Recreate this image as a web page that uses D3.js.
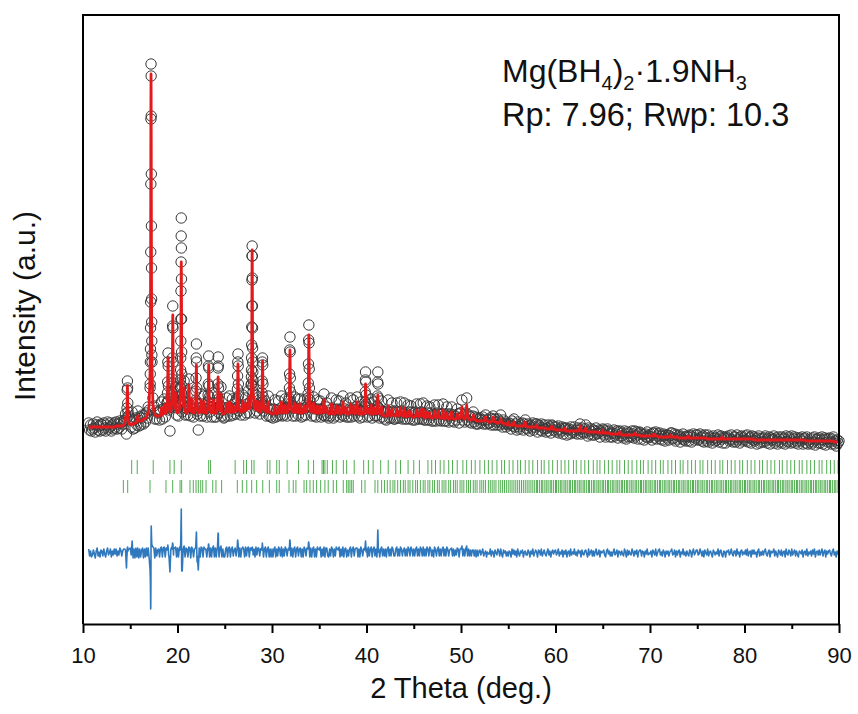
<!DOCTYPE html>
<html><head><meta charset="utf-8">
<script src="https://cdn.jsdelivr.net/npm/d3@7"></script>
<style>body{margin:0;background:#fff}</style>
</head><body><svg id="c" width="858" height="714"></svg>
<script>
// ---- data: 2-theta scan, low-angle part (0.1 deg step) ----
const lowStart = 10.6, lowStep = 0.1;
const lowObs = [
201,194,199,193,
195,200,196,192,199,202,194,198,193,200,
199,194,201,196,193,199,202,195,197,201,
193,199,195,201,196,202,195,200,196,203,
201,195,200,203,204,210,190,243,208,204,
205,197,212,195,204,196,206,199,213,198,
207,199,206,209,200,209,202,211,206,217,
214,236,560,262,226,218,205,213,205,211,
212,204,214,222,205,215,225,207,216,221,
271,214,193,217,229,318,227,221,237,209,
216,208,219,237,406,212,222,243,209,216,
215,209,245,219,208,231,216,207,215,221,
280,213,194,216,208,230,217,208,228,215,
215,207,221,268,212,217,207,217,231,207,
216,207,220,267,211,218,237,208,214,206,
207,216,226,208,217,228,208,216,225,209,
215,222,210,221,270,213,217,209,216,229,
217,209,226,211,220,233,211,222,239,378,
232,221,211,229,213,218,227,210,216,222,
266,213,217,223,208,216,228,208,215,207,
214,206,215,224,207,214,208,223,215,209,
228,208,215,209,225,216,208,217,224,287,
216,218,208,216,227,208,216,225,209,215,
225,207,215,208,224,216,209,218,226,299,
217,218,208,216,227,208,215,207,224,215,
214,223,207,215,209,230,208,217,221,208,
206,214,208,226,215,206,214,208,224,215,
214,223,207,214,209,228,208,215,221,207,
213,207,215,226,207,215,224,208,214,217,
227,208,214,206,222,213,207,214,218,252,
218,207,221,208,214,225,206,214,222,208,
214,208,252,216,206,214,223,207,212,205,
212,204,213,224,206,212,206,221,213,205,
205,213,221,206,212,206,222,213,205,211,
221,205,211,205,219,212,205,218,212,204,
211,204,212,220,205,211,205,220,212,205,
221,204,210,204,218,211,204,217,211,203,
209,203,219,210,203,211,219,204,210,203,
210,220,203,209,203,217,210,202,208,210,
217,203,209,202,208,204,215,210,201,211,
211,224,204,209,202,211,226,204,209,202,
207,201,208,212,202,207,200,206,200,205
];
const lowCalc = [
197,197,197,197,
197,197,197,197,197,197,197,197,197,197,
197,197,197,197,197,197,197,197,197,197,
197,197,197,197,197,198,198,198,198,198,
198,198,198,199,200,207,205,238,204,200,
200,199,200,200,200,201,201,203,208,203,
203,203,203,204,205,205,206,206,209,212,
219,253,550,254,220,213,210,208,208,208,
208,208,209,216,209,210,219,211,211,216,
266,217,212,213,223,309,223,216,231,213,
211,212,214,230,362,230,218,236,213,211,
211,213,239,214,213,225,212,211,211,216,
259,216,211,211,212,224,212,212,222,211,
211,211,216,259,216,212,211,212,224,211,
211,211,215,247,215,213,230,212,210,210,
211,212,220,212,212,222,212,212,219,212,
212,217,213,217,260,217,212,213,212,223,
213,213,220,214,215,227,215,217,234,374,
234,217,215,223,215,213,222,213,212,217,
263,217,213,217,212,212,222,212,211,211,
210,210,211,218,211,210,211,217,211,212,
222,212,211,212,219,212,211,213,219,274,
219,213,212,212,221,212,212,219,212,211,
220,211,211,212,218,212,212,213,221,289,
221,213,212,212,221,212,211,211,218,211,
211,217,211,211,212,224,212,212,216,211,
210,210,211,220,211,210,210,211,218,211,
211,217,211,210,212,222,212,211,216,211,
210,210,211,220,211,211,218,211,210,212,
222,212,210,210,216,210,210,210,213,240,
213,211,215,211,210,219,210,210,216,211,
210,212,229,212,210,210,217,210,208,208,
208,208,209,218,209,208,209,215,209,208,
208,209,215,209,208,209,216,209,208,208,
216,208,207,208,213,208,208,212,208,207,
207,207,208,214,208,207,208,214,208,208,
215,207,206,207,212,207,207,211,207,206,
206,207,213,207,206,207,213,207,206,206,
206,214,206,205,206,211,206,205,205,206,
212,206,205,205,205,206,210,206,205,207,
207,217,207,205,205,207,219,207,205,205,
204,204,205,209,205,204,204,203,203,203
];
// ---- fine-step points recorded across the strongest reflections: [2theta, obs, calc] ----
const fineScan = [
[14.64,206,210],[14.66,216,218],[14.68,234,230],[14.72,236,230],[14.74,221,218],[14.76,212,210],
[17.11,240,262],[17.12,250,274],[17.13,262,291],[17.14,275,312],[17.15,296,340],[17.16,322,378],[17.17,372,426],[17.18,440,481],[17.19,505,529],
[17.21,548,529],[17.22,508,481],[17.23,450,426],[17.24,398,378],[17.25,356,340],[17.26,325,312],[17.27,302,291],[17.28,283,274],[17.29,269,262],
[18.92,222,219],[18.94,231,226],[18.96,242,236],[18.98,262,254],[19.02,258,254],[19.04,238,236],[19.06,224,226],[19.08,216,219],
[19.42,232,228],[19.44,245,239],[19.46,266,258],[19.48,298,288],[19.52,296,288],[19.54,262,258],[19.56,241,239],[19.58,226,228],
[20.31,236,233],[20.32,244,239],[20.33,254,246],[20.34,266,255],[20.35,283,268],[20.36,305,285],[20.37,333,306],[20.38,362,330],[20.39,388,352],
[20.41,376,352],[20.42,345,330],[20.43,305,306],[20.44,272,285],[20.45,250,268],[20.46,238,255],[20.47,230,246],[20.48,224,239],[20.49,220,233],
[21.92,224,219],[21.94,233,225],[21.96,246,234],[21.98,266,249],[22.02,262,249],[22.04,236,234],[22.06,220,225],[22.08,210,219],
[23.22,222,219],[23.24,229,225],[23.26,240,234],[23.28,258,249],[23.32,256,249],[23.34,238,234],[23.36,227,225],[23.38,217,219],
[24.22,221,217],[24.24,228,221],[24.26,240,228],[24.28,256,239],[24.32,258,239],[24.34,236,228],[24.36,225,221],[24.38,215,217],
[26.32,226,220],[26.34,235,226],[26.36,248,235],[26.38,262,250],[26.42,258,250],[26.44,240,235],[26.46,228,226],[26.48,218,220],
[27.81,240,237],[27.82,247,243],[27.83,254,251],[27.84,266,261],[27.85,279,274],[27.86,297,292],[27.87,318,314],[27.88,344,340],[27.89,368,363],
[27.91,368,363],[27.92,346,340],[27.93,318,314],[27.94,296,292],[27.95,276,274],[27.96,262,261],[27.97,252,251],[27.98,244,243],[27.99,238,237],
[28.92,224,221],[28.94,231,226],[28.96,243,237],[28.98,262,252],[29.02,259,252],[29.04,240,237],[29.06,227,226],[29.08,219,221],
[31.82,226,223],[31.84,236,230],[31.86,250,242],[31.88,274,261],[31.92,272,261],[31.94,246,242],[31.96,232,230],[31.98,221,223],
[33.82,230,226],[33.84,241,234],[33.86,260,250],[33.88,284,273],[33.92,281,273],[33.94,255,250],[33.96,236,234],[33.98,224,226],
[39.84,222,219],[39.86,232,225],[39.88,244,234],[39.92,242,234],[39.94,229,225],[39.96,220,219],
[41.14,218,215],[41.16,228,219],[41.18,242,225],[41.22,240,225],[41.24,226,219],[41.26,216,215]
];
// ---- high-angle part (0.1 deg step, 52.0 - 90.0) ----
const highStart = 52.0, highStep = 0.1;
const highObs = [
206,201,204,207,200,204,209,200,204,201,
201,206,199,205,208,199,205,202,199,205,
203,199,209,201,197,204,200,202,197,200,
199,201,200,195,203,198,205,197,200,194,
202,197,195,200,198,201,194,200,204,196,
195,200,198,193,199,196,201,194,197,200,
200,192,199,198,194,200,193,196,199,195,
192,196,199,193,197,191,199,198,194,197,
197,192,194,198,191,195,193,197,190,196,
195,196,189,194,195,190,197,191,194,192,
197,191,194,190,196,194,200,190,196,192,
191,195,199,192,188,196,190,193,195,189,
194,189,193,196,190,191,194,187,193,191,
195,194,189,187,193,195,190,193,187,191,
187,191,194,188,190,193,186,192,193,188,
191,188,186,193,190,185,192,187,191,188,
187,193,190,186,193,188,192,185,190,192,
191,185,190,189,184,190,187,192,186,188,
187,190,184,191,191,186,192,185,188,190,
191,185,188,184,190,188,183,189,186,189,
184,188,191,191,185,186,190,183,189,185,
188,189,182,187,185,190,184,187,183,188,
187,183,189,188,182,187,190,184,186,189,
189,184,185,190,187,183,188,182,189,186,
183,189,182,186,187,184,181,188,186,183,
186,184,189,182,187,188,185,181,187,186,
181,187,186,188,183,185,189,184,182,187,
187,182,189,184,186,181,187,188,183,186,
184,188,183,189,182,186,187,181,188,184,
187,183,185,180,186,188,181,185,182,186,
182,186,188,183,181,185,187,180,186,184,
185,188,181,186,183,180,187,185,182,187,
181,185,186,180,188,183,182,187,185,181,
188,182,185,187,181,186,183,180,186,185,
183,187,180,185,186,181,187,180,184,182,
185,180,186,182,187,179,184,185,181,186,
181,184,187,180,184,186,179,185,182,185,
186,182,180,185,187,180,183,178,184,181,
183
];
const highCalc = [
203,203,203,203,203,204,207,204,203,202,
202,202,202,203,207,203,202,202,201,201,
201,202,205,202,201,201,200,200,200,199,
202,199,199,199,199,199,202,199,198,198,
198,198,198,198,198,198,198,199,202,198,
197,197,197,197,197,197,197,197,197,197,
199,196,196,196,196,196,196,196,196,196,
195,195,195,195,195,195,198,195,195,195,
194,194,194,194,194,194,194,194,194,194,
196,193,193,193,193,193,193,193,193,193,
193,193,193,193,193,194,198,194,193,193,
193,193,196,193,192,192,192,192,192,192,
192,192,192,192,192,192,191,191,191,191,
194,191,191,191,191,191,191,191,190,190,
190,190,190,190,190,190,190,190,192,190,
189,189,189,189,189,189,189,189,189,189,
189,189,189,189,191,189,189,189,189,189,
188,188,188,188,188,188,188,188,188,188,
188,188,188,188,190,188,188,188,188,187,
187,187,187,187,187,187,187,187,187,187,
187,187,189,187,187,187,187,187,187,187,
186,186,186,186,186,186,186,186,186,186,
188,186,186,186,186,186,186,186,186,186,
186,186,186,186,186,186,186,186,186,186,
185,185,185,185,185,185,185,185,185,185,
185,185,185,185,185,185,187,185,185,185,
185,185,185,185,185,185,185,185,185,185,
185,185,185,185,185,185,185,185,185,185,
185,185,185,185,185,185,185,185,185,185,
184,184,184,184,184,184,184,184,184,184,
184,184,184,184,184,184,184,184,184,184,
184,184,184,184,184,184,184,184,184,184,
184,184,184,184,184,184,184,184,184,184,
184,184,184,184,184,184,184,184,184,184,
184,184,184,184,184,183,183,183,183,183,
183,183,183,183,183,183,183,183,183,183,
183,183,183,183,183,183,183,183,183,183,
183,183,183,183,183,182,182,182,182,182,
182
];
// ---- Bragg reflection positions ----
const braggPhase1 = [15.15,15.74,17.43,19.2,19.65,20.4,23.3,23.5,26.1,27.0,27.3,27.85,28.1,29.5,29.78,30.5,30.77,31.6,32.8,33.84,34.4,35.3,35.45,35.6,35.85,36.4,36.8,37.55,37.9,38.7,39.7,40.2,40.7,41.5,42.3,43.1,43.6,44.4,45.0,45.6,46.5,46.9,47.3,47.8,48.2,48.7,49.1,49.6,50.2,50.6,51.1,51.5,52.0,52.5,52.9,53.3,53.8,54.3,54.6,55.1,55.5,56.0,56.3,56.8,57.2,57.6,58.1,58.5,58.8,59.3,59.7,60.2,60.6,61.0,61.4,61.9,62.2,62.7,63.1,63.5,64.0,64.4,64.7,65.2,65.6,66.0,66.5,66.8,67.3,67.7,68.1,68.6,69.0,69.3,69.8,70.2,70.6,71.1,71.4,71.9,72.3,72.7,73.2,73.5,74.0,74.4,74.8,75.3,75.6,76.1,76.5,76.9,77.4,77.7,78.2,78.6,79.0,79.5,79.8,80.3,80.7,81.1,81.6,81.9,82.4,82.8,83.2,83.7,84.0,84.5,84.9,85.3,85.8,86.1,86.6,87.0,87.4,87.9,88.2,88.7,89.1,89.5,89.9];
const braggPhase2 = [14.27,14.73,17.09,18.78,19.49,20.27,20.44,21.32,21.67,21.96,22.2,22.46,22.67,23.02,23.73,24.07,24.67,26.33,26.86,27.33,27.85,28.38,29.02,29.72,30.5,30.77,31.8,32.25,32.53,33.39,33.67,34.02,34.37,34.72,35.15,35.6,35.95,36.48,36.84,37.54,37.9,38.07,38.25,38.43,38.6,39.49,39.84,40.9,41.2,41.6,41.9,42.2,42.5,42.8,43.0,43.3,43.6,43.9,44.1,44.4,44.6,44.9,45.2,45.4,45.7,46.0,46.2,46.5,46.7,47.0,47.2,47.5,47.7,48.0,48.2,48.4,48.7,48.9,49.2,49.4,49.6,49.9,50.1,50.3,50.6,50.8,51.0,51.3,51.5,51.7,52.0,52.2,52.4,52.6,52.9,53.1,53.3,53.5,53.7,54.0,54.2,54.4,54.6,54.8,55.0,55.2,55.4,55.6,55.8,56.0,56.2,56.4,56.6,56.8,57.0,57.2,57.4,57.6,57.8,58.0,58.1,58.3,58.5,58.6,58.8,59.0,59.1,59.3,59.5,59.6,59.8,60.0,60.1,60.3,60.5,60.6,60.8,61.0,61.1,61.3,61.5,61.6,61.8,62.0,62.1,62.3,62.5,62.6,62.8,63.0,63.1,63.3,63.5,63.6,63.8,64.0,64.1,64.3,64.5,64.6,64.8,65.0,65.1,65.3,65.5,65.6,65.8,66.0,66.1,66.3,66.5,66.6,66.8,67.0,67.1,67.3,67.5,67.6,67.8,68.0,68.1,68.3,68.5,68.6,68.8,69.0,69.1,69.3,69.5,69.6,69.8,70.0,70.1,70.3,70.5,70.6,70.8,71.0,71.1,71.3,71.5,71.6,71.8,72.0,72.1,72.3,72.5,72.6,72.8,73.0,73.1,73.3,73.5,73.6,73.8,74.0,74.1,74.3,74.5,74.6,74.8,75.0,75.1,75.3,75.5,75.6,75.8,76.0,76.1,76.3,76.5,76.6,76.8,77.0,77.1,77.3,77.5,77.6,77.8,78.0,78.1,78.3,78.5,78.6,78.8,79.0,79.1,79.3,79.5,79.6,79.8,80.0,80.1,80.3,80.5,80.6,80.8,81.0,81.1,81.3,81.5,81.6,81.8,82.0,82.1,82.3,82.5,82.6,82.8,83.0,83.1,83.3,83.5,83.6,83.8,84.0,84.1,84.3,84.5,84.6,84.8,85.0,85.1,85.3,85.5,85.6,85.8,86.0,86.1,86.3,86.5,86.6,86.8,87.0,87.1,87.3,87.5,87.6,87.8,88.0,88.1,88.3,88.5,88.6,88.8,89.0,89.1,89.3,89.5,89.6,89.8];
const xMajorTicks = [10,20,30,40,50,60,70,80,90];
const xMinorTicks = [15,25,35,45,55,65,75,85];
const diffOffset = 71;       // vertical offset of the difference curve
const braggRow1 = [150,164]; // intensity band of phase-1 ticks
const braggRow2 = [131,144]; // intensity band of phase-2 ticks

// ---- drawing ----
const svg = d3.select('#c');
const L=83, R=839, T=15, B=624;
const ff = '"Liberation Sans", Arial, sans-serif';
const x = d3.scaleLinear().domain([10,90]).range([L,R]);
const y = d3.scaleLinear().domain([0,609]).range([B,T]);
const pts = [];
lowObs.forEach((o,i)=>pts.push({t:lowStart+i*lowStep, o, c:lowCalc[i]}));
fineScan.forEach(([t,o,c])=>pts.push({t,o,c}));
highObs.forEach((o,i)=>pts.push({t:highStart+i*highStep, o, c:highCalc[i]}));
pts.sort((a,b)=>a.t-b.t);

svg.append('g').selectAll('circle').data(pts).join('circle')
  .attr('cx',d=>x(d.t)).attr('cy',d=>y(d.o)).attr('r',5.2)
  .attr('fill','none').attr('stroke','#3a3a3a').attr('stroke-width',1);

svg.append('path').datum(pts)
  .attr('d', d3.line().x(d=>x(d.t)).y(d=>y(d.c)))
  .attr('fill','none').attr('stroke','#e3191c').attr('stroke-width',2.8).attr('stroke-linejoin','round');

svg.append('g').selectAll('line').data(braggPhase1).join('line')
  .attr('x1',d=>x(d)).attr('x2',d=>x(d)).attr('y1',y(braggRow1[0])).attr('y2',y(braggRow1[1]))
  .attr('stroke','#52ad52').attr('stroke-width',1);
svg.append('g').selectAll('line').data(braggPhase2).join('line')
  .attr('x1',d=>x(d)).attr('x2',d=>x(d)).attr('y1',y(braggRow2[0])).attr('y2',y(braggRow2[1]))
  .attr('stroke','#52ad52').attr('stroke-width',1);

svg.append('path').datum(pts)
  .attr('d', d3.line().x(d=>x(d.t)).y(d=>y(d.o-d.c+diffOffset)))
  .attr('fill','none').attr('stroke','#2f78bd').attr('stroke-width',1.6).attr('stroke-linejoin','round');

// frame
svg.append('path').attr('d',`M${L},${B}V${T}H${R}V${B}`).attr('fill','none').attr('stroke','#000').attr('stroke-width',2);

const ax = svg.append('g').attr('transform',`translate(0,${B})`)
  .call(d3.axisBottom(x).tickValues(xMajorTicks).tickSize(9).tickSizeOuter(0).tickPadding(14));
ax.select('.domain').attr('stroke','#000').attr('stroke-width',2);
ax.selectAll('.tick line').attr('stroke','#000').attr('stroke-width',2);
ax.selectAll('.tick text').attr('font-family',ff).attr('font-size',22).attr('fill','#111');
const axm = svg.append('g').attr('transform',`translate(0,${B})`)
  .call(d3.axisBottom(x).tickValues(xMinorTicks).tickSize(5).tickFormat(''));
axm.select('.domain').remove();
axm.selectAll('.tick line').attr('stroke','#000').attr('stroke-width',2);

svg.append('text').attr('x',(L+R)/2).attr('y',698).attr('text-anchor','middle')
  .attr('font-family',ff).attr('font-size',29).attr('fill','#111').text('2 Theta (deg.)');
svg.append('text').attr('transform',`translate(35,306) rotate(-90)`).attr('text-anchor','middle')
  .attr('font-family',ff).attr('font-size',30).attr('fill','#111').text('Intensity (a.u.)');

const t1 = svg.append('text').attr('x',502).attr('y',82).attr('font-family',ff).attr('font-size',32).attr('fill','#111');
t1.append('tspan').text('Mg(BH');
t1.append('tspan').attr('font-size',20).attr('dy',8).text('4');
t1.append('tspan').attr('dy',-8).text(')');
t1.append('tspan').attr('font-size',20).attr('dy',8).text('2');
t1.append('tspan').attr('dy',-8).text('·1.9NH');
t1.append('tspan').attr('font-size',20).attr('dy',8).text('3');
svg.append('text').attr('x',502).attr('y',126).attr('font-family',ff).attr('font-size',32.5).attr('fill','#111').text('Rp: 7.96; Rwp: 10.3');
</script></body></html>
